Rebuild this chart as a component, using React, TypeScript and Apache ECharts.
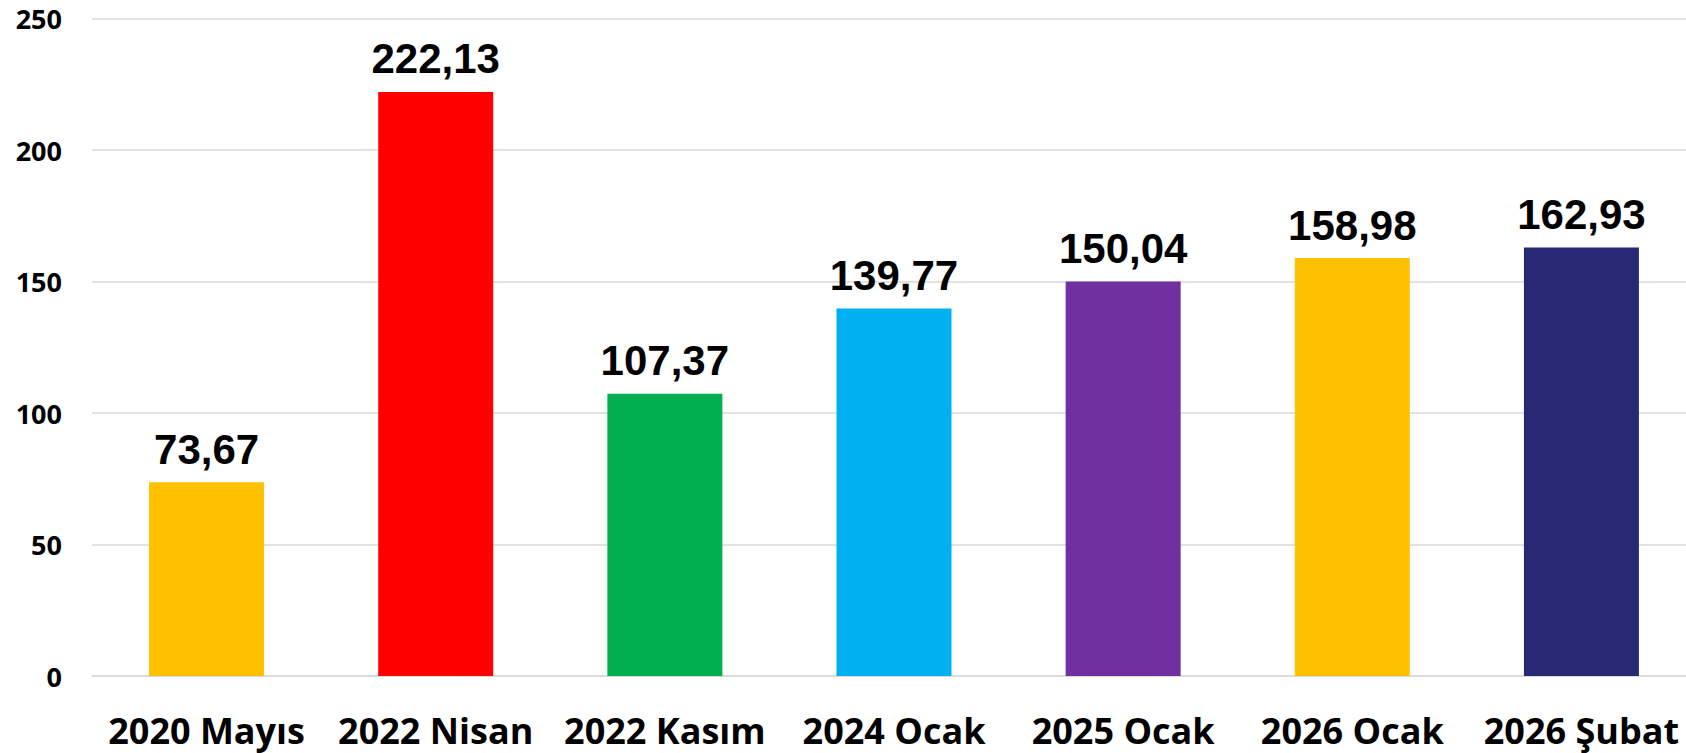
import React, { useEffect, useRef } from "react";
import * as echarts from "echarts";

const categories = ["2020 Mayıs", "2022 Nisan", "2022 Kasım", "2024 Ocak", "2025 Ocak", "2026 Ocak", "2026 Şubat"];
const values = [73.67, 222.13, 107.37, 139.77, 150.04, 158.98, 162.93];
const barColors = ["#FFC000", "#FF0000", "#00B050", "#00B0F0", "#7030A0", "#FFC000", "#292872"];
const yTicks = [0, 50, 100, 150, 200, 250];

export default function App() {
  const ref = useRef<HTMLDivElement>(null);
  useEffect(() => {
    if (!ref.current) return;
    const chart = echarts.init(ref.current, undefined, { renderer: "svg" });
    chart.setOption({
      animation: false,
      backgroundColor: "#ffffff",
      grid: { left: 92, right: 0, top: 18.7, bottom: 77, containLabel: false, outerBoundsMode: "none" },
      xAxis: {
        type: "category",
        data: categories,
        axisLine: { show: true, lineStyle: { color: "#d9d9d9", width: 1.5 } },
        axisTick: { show: false },
        axisLabel: {
          interval: 0,
          margin: 36,
          fontFamily: "Open Sans",
          fontWeight: "bold",
          fontSize: 36,
          lineHeight: 36,
          color: "#000000",
        },
      },
      yAxis: {
        type: "value",
        min: yTicks[0],
        max: yTicks[yTicks.length - 1],
        interval: 50,
        axisLine: { show: false },
        axisTick: { show: false },
        splitLine: { show: true, lineStyle: { color: "#d9d9d9", width: 1.5 } },
        axisLabel: {
          margin: 30,
          fontFamily: "Open Sans",
          fontWeight: "bold",
          fontSize: 27,
          color: "#000000",
        },
      },
      series: [
        {
          type: "bar",
          barWidth: 115,
          data: values.map((v, i) => ({ value: v, itemStyle: { color: barColors[i] } })),
          label: {
            show: true,
            position: "top",
            distance: 12,
            fontFamily: "Liberation Sans",
            fontWeight: "bold",
            fontSize: 42,
            color: "#000000",
            formatter: (p: any) => Number(p.value).toFixed(2).replace(".", ","),
          },
        },
      ],
    });
    return () => chart.dispose();
  }, []);
  return (
    <div style={{ position: "fixed", left: 0, top: 0, width: 1686, height: 753, overflow: "hidden", background: "#fff" }}>
      <div ref={ref} style={{ position: "absolute", left: 0, top: 0, width: 1696, height: 753 }} />
    </div>
  );
}
